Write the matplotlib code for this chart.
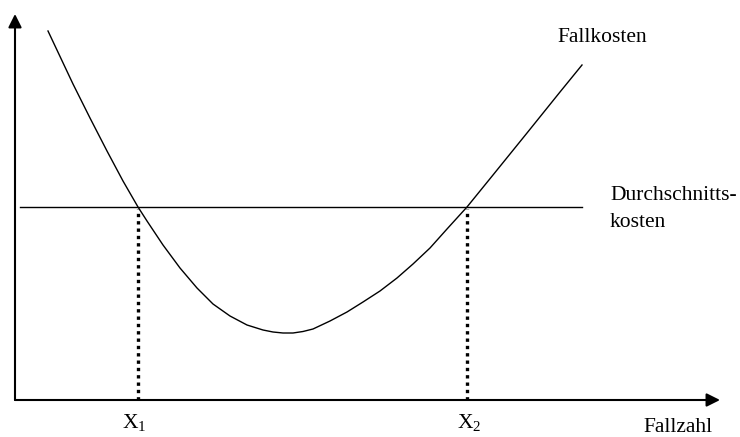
import matplotlib
matplotlib.use("Agg")
import matplotlib.pyplot as plt

# Schriften (Times-artig)
plt.rcParams['font.family'] = ['Liberation Serif', 'DejaVu Serif']
plt.rcParams['mathtext.fontset'] = 'custom'
plt.rcParams['mathtext.rm'] = 'Liberation Serif'
plt.rcParams['mathtext.it'] = 'Liberation Serif'
FS = 15.5

# Fallkosten-Kurve
fallzahl = [33, 58, 75, 92, 108, 123, 132, 148, 165, 182, 198, 215, 232, 248,
            258, 268, 278, 288, 298, 315, 332, 348, 365, 382, 398, 415, 432,
            452, 478, 512, 545, 567]
fallkosten = [369, 316, 282, 249, 219, 193, 179, 155, 132, 112, 96, 84, 75, 70,
              68, 67, 67, 68.5, 71, 79, 88, 98, 109, 122, 136, 152, 171,
              193, 225, 267, 308, 335]

# Durchschnittskosten und Schnittpunkte
durchschnitt = 193
durch_x = [5, 567]
x1 = 123
x2 = 452

fig = plt.figure(figsize=(7.4, 4.37), dpi=100)
ax = fig.add_axes([0, 0, 1, 1])
ax.set_xlim(-15, 725)
ax.set_ylim(-37, 400)
ax.axis('off')

# Achsen mit Pfeilen
arrow = dict(arrowstyle='-|>,head_length=0.4,head_width=0.2', lw=1.5,
             color='black', mutation_scale=20, shrinkA=0, shrinkB=0)
ax.annotate('', xy=(705, 0), xytext=(0, 0), arrowprops=arrow)
ax.annotate('', xy=(0, 386), xytext=(0, 0), arrowprops=arrow)

# Kurven
ax.plot(fallzahl, fallkosten, color='black', lw=1.0, solid_joinstyle='round')
ax.plot(durch_x, [durchschnitt, durchschnitt], color='black', lw=1.0)

# gepunktete Senkrechten
for xv in (x1, x2):
    ax.plot([xv, xv], [0, durchschnitt - 2], color='black', lw=2.4,
            linestyle=(0, (1, 1.2)), dash_capstyle='butt')

# Beschriftungen
ax.text(542, 358, 'Fallkosten', fontsize=FS, ha='left', va='baseline')
ax.text(595, 200, 'Durchschnitts-', fontsize=FS, ha='left', va='baseline')
ax.text(595, 173, 'kosten', fontsize=FS, ha='left', va='baseline')
ax.text(107, -28, r'X$_{\mathrm{1}}$', fontsize=FS, ha='left', va='baseline')
ax.text(442, -28, r'X$_{\mathrm{2}}$', fontsize=FS, ha='left', va='baseline')
ax.text(628, -32, 'Fallzahl', fontsize=FS, ha='left', va='baseline')

fig.savefig('out.png', dpi=100)
